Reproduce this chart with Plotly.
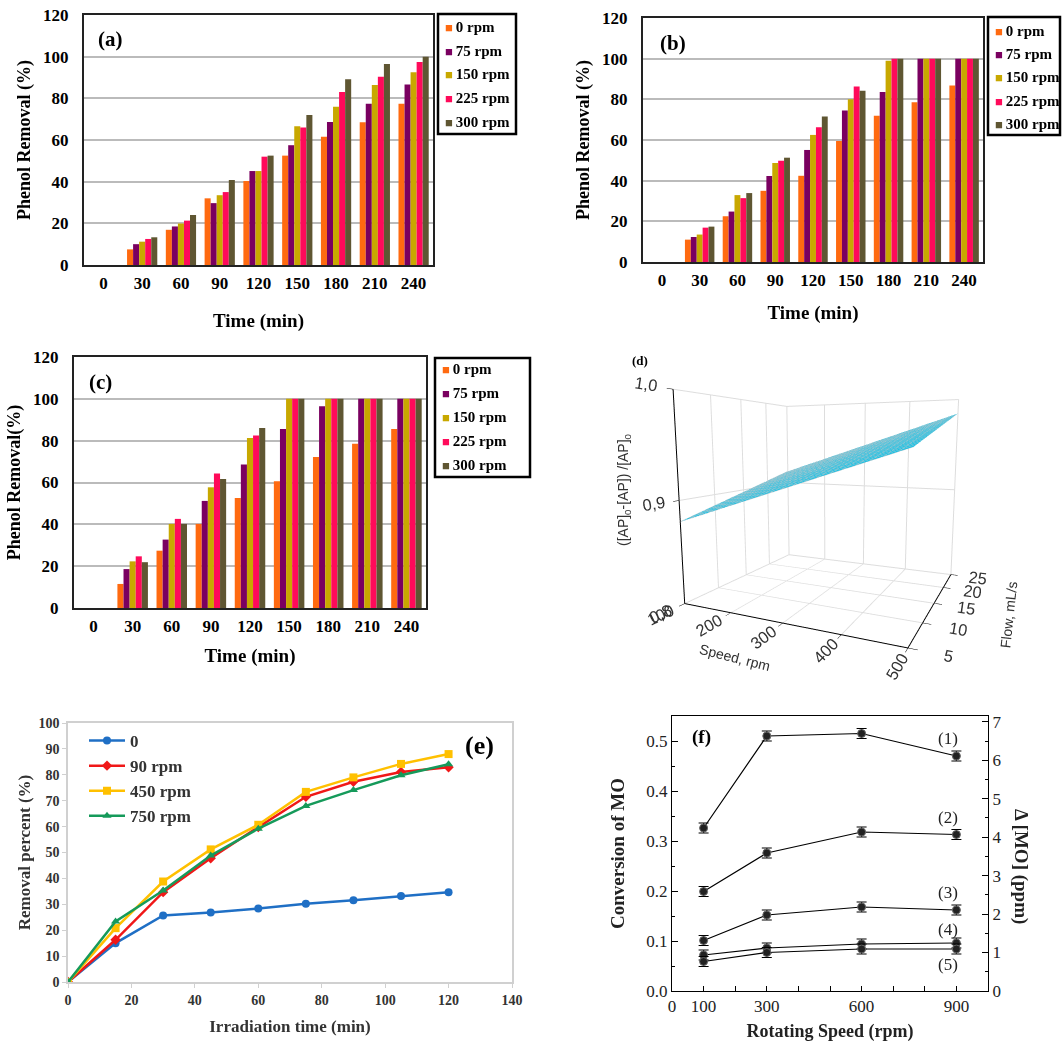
import plotly.graph_objects as go

W, H = 1062, 1042
def px_x(v): return v / W
def px_y(v): return 1 - v / H

# ---------------- Data ----------------
times = ["0", "30", "60", "90", "120", "150", "180", "210", "240"]
rpm_labels = ["0 rpm", "75 rpm", "150 rpm", "225 rpm", "300 rpm"]
bar_colors = ["#FF6A10", "#7A0060", "#C8A800", "#FF0A5A", "#5F5632"]

a_vals = [
    [0, 7.5, 16.9, 32.0, 40.3, 52.5, 61.6, 68.5, 77.4],
    [0, 10.0, 18.5, 29.7, 45.1, 57.5, 68.7, 77.4, 86.7],
    [0, 11.2, 19.9, 33.5, 45.1, 66.6, 76.0, 86.4, 92.5],
    [0, 12.5, 21.3, 35.0, 52.0, 66.0, 83.0, 90.4, 97.4],
    [0, 13.3, 24.0, 40.8, 52.5, 72.0, 89.2, 96.5, 100.0],
]
b_vals = [
    [0, 11.0, 22.5, 35.0, 42.4, 59.5, 71.9, 78.6, 86.8],
    [0, 12.3, 24.8, 42.3, 55.1, 74.5, 83.6, 100, 100],
    [0, 13.5, 32.9, 48.7, 62.5, 80.0, 99.0, 100, 100],
    [0, 16.9, 31.4, 49.8, 66.3, 86.3, 100, 100, 100],
    [0, 17.4, 33.9, 51.3, 71.5, 84.2, 100, 100, 100],
]
c_vals = [
    [0, 11.5, 27.4, 40.2, 52.6, 60.6, 72.2, 78.5, 85.6],
    [0, 18.6, 32.7, 51.2, 68.6, 85.6, 96.5, 100, 100],
    [0, 22.3, 40.2, 57.7, 81.3, 100, 100, 100, 100],
    [0, 24.7, 42.6, 64.3, 82.5, 100, 100, 100, 100],
    [0, 21.9, 40.2, 61.7, 86.0, 100, 100, 100, 100],
]

# (d) surface corners
d_speed = [100, 500]
d_flow = [5, 25]
d_z = [[0.88, 0.95],
       [0.915, 0.985]]

# (e)
e_time = [0, 15, 30, 45, 60, 75, 90, 105, 120]
e_names = ["0", "90 rpm", "450 rpm", "750 rpm"]
e_vals = [
    [0, 15.0, 25.7, 26.8, 28.4, 30.2, 31.6, 33.2, 34.7],
    [0, 16.3, 34.7, 47.8, 59.8, 71.5, 77.3, 81.1, 82.9],
    [0, 20.8, 38.8, 51.2, 60.7, 73.4, 79.0, 84.2, 88.0],
    [0, 23.4, 35.3, 48.8, 59.2, 68.0, 74.1, 79.8, 84.1],
]
e_colors = ["#1F6FC5", "#F01818", "#FFC000", "#159A5A"]
e_symbols = ["circle", "diamond", "square", "triangle-up"]

# (f)
f_speed = [100, 300, 600, 900]
f_names = ["(1)", "(2)", "(3)", "(4)", "(5)"]
f_vals = [
    [0.326, 0.510, 0.515, 0.470],
    [0.199, 0.276, 0.318, 0.313],
    [0.101, 0.152, 0.168, 0.162],
    [0.072, 0.086, 0.094, 0.096],
    [0.059, 0.077, 0.084, 0.084],
]
f_err = [0.01, 0.01, 0.01, 0.01]
f_label_y = [0.505, 0.348, 0.198, 0.124, 0.053]

fig = go.Figure()

serif = "Liberation Serif"
bold_font = dict(family=serif, size=17, color="black", weight="bold")

# ---------------- Bar panels ----------------
panels = [("x", "y", a_vals), ("x2", "y2", b_vals), ("x3", "y3", c_vals)]
for xa, ya, vals in panels:
    for i, name in enumerate(rpm_labels):
        fig.add_trace(go.Bar(
            x=times, y=vals[i], name=name, marker_color=bar_colors[i],
            marker_line_width=0, xaxis=xa, yaxis=ya, showlegend=False,
        ))

bar_domains = {
    "": ([84 / W, 433 / W], [px_y(265), px_y(15)]),
    "2": ([643 / W, 983 / W], [px_y(262), px_y(18)]),
    "3": ([74 / W, 426 / W], [px_y(608), px_y(357)]),
}
ytitles = {"": "Phenol Removal (%)", "2": "Phenol Removal (%)", "3": "Phenol Removal(%)"}
xstand = {"": 21, "2": 16, "3": 13}
layout = {}
for k, (dx, dy) in bar_domains.items():
    layout["xaxis" + k] = dict(
        domain=dx, anchor="y" + k, type="category", automargin=False,
        showline=True, linecolor="#222", linewidth=2, mirror=True,
        ticks="outside", ticklen=2, tickcolor="rgba(0,0,0,0)",
        tickfont=bold_font, showgrid=False,
        title=dict(text="Time (min)", font=dict(family=serif, size=19, weight="bold", color="black"),
                   standoff=xstand[k]),
    )
    layout["yaxis" + k] = dict(
        domain=dy, anchor="x" + k, range=[0, 120], dtick=20, automargin=False,
        showline=True, linecolor="#222", linewidth=2, mirror=True,
        ticks="outside", ticklen=10, tickcolor="rgba(0,0,0,0)",
        tickfont=bold_font, showgrid=True, gridcolor="#BBBBBB", gridwidth=1.5,
        zeroline=False,
        title=dict(text=ytitles[k], font=dict(family=serif, size=18, weight="bold", color="black"),
                   standoff=8),
    )

# legend boxes for the bar panels: (left, top, right, bottom, first entry y, step)
legend_boxes = [
    (438, 14, 516, 134, 27, 23.7),
    (988, 17, 1060, 135, 31, 23.2),
    (435, 358, 530, 477, 369, 24.0),
]
shapes = []
ann = []
for (l, t, r, b, y0, step) in legend_boxes:
    shapes.append(dict(type="rect", xref="paper", yref="paper",
                       x0=px_x(l), x1=px_x(r), y0=px_y(b), y1=px_y(t),
                       line=dict(color="black", width=2.5), fillcolor="white", layer="above"))
    for i, name in enumerate(rpm_labels):
        ann.append(dict(
            text=f'<span style="color:{bar_colors[i]};font-size:13px">■</span>\u2009{name}',
            x=px_x(l + 5), y=px_y(y0 + i * step), xref="paper", yref="paper",
            xanchor="left", yanchor="middle", showarrow=False,
            font=dict(family=serif, size=15, weight="bold", color="black")))

# ---------------- (d) surface ----------------
fig.add_trace(go.Surface(
    x=d_speed, y=d_flow, z=d_z, scene="scene",
    colorscale=[[0, "#12C2E6"], [1, "#12C2E6"]], showscale=False,
    lighting=dict(ambient=1, diffuse=0, specular=0, roughness=1, fresnel=0),
    contours=dict(
        x=dict(show=True, start=100, end=500, size=20, color="#A9C6CE", width=1),
        y=dict(show=True, start=5, end=25, size=1, color="#A9C6CE", width=1),
    ),
    hoverinfo="skip",
))
axis3d = dict(showbackground=False, gridcolor="#DDDDDD", showline=True, linecolor="black",
              linewidth=2, ticks="outside", tickcolor="black", ticklen=6,
              tickfont=dict(family="Liberation Sans", size=14, color="#333"),
              zeroline=False, showspikes=False)
layout["scene"] = dict(
    domain=dict(x=[600 / W, 1.0], y=[px_y(686), px_y(331)]),
    xaxis=dict(axis3d, range=[100, 500], dtick=100,
               title=dict(text="Speed, rpm", font=dict(family="Liberation Sans", size=14, color="#333"))),
    yaxis=dict(axis3d, range=[5, 25], dtick=5,
               title=dict(text="Flow, mL/s", font=dict(family="Liberation Sans", size=14, color="#333"))),
    zaxis=dict(axis3d, range=[0.8, 1.0], tickvals=[0.8, 0.9, 1.0], ticktext=["0,8", "0,9", "1,0"],
               title=dict(text="")),
    aspectmode="manual", aspectratio=dict(x=1.2, y=1.1, z=1.1),
    camera=dict(eye=dict(x=1.0, y=-2.2, z=0.29), center=dict(x=0, y=0, z=-0.08)),
)
# z-axis title of (d) as rotated text left of the tick labels
ann.append(dict(text="([AP]<sub>0</sub>-[AP]) /[AP]<sub>0</sub>", x=px_x(624), y=px_y(490),
                xref="paper", yref="paper", showarrow=False, textangle=-90,
                xanchor="center", yanchor="middle",
                font=dict(family="Liberation Sans", size=14, color="#333")))

# ---------------- (e) lines ----------------
for i, name in enumerate(e_names):
    fig.add_trace(go.Scatter(
        x=e_time, y=e_vals[i], name=name, mode="lines+markers",
        line=dict(color=e_colors[i], width=2.5),
        marker=dict(color=e_colors[i], symbol=e_symbols[i], size=8),
        xaxis="x4", yaxis="y4", legend="legend",
    ))
serif_bold14 = dict(family=serif, size=14, weight="bold", color="#333")
layout["xaxis4"] = dict(
    domain=[68 / W, 512 / W], anchor="y4", range=[0, 140], dtick=20, automargin=False,
    showline=True, linecolor="#D0D0D0", linewidth=1.5, mirror=True,
    ticks="outside", ticklen=4, tickcolor="#D0D0D0", showgrid=False, zeroline=False,
    tickfont=serif_bold14,
    title=dict(text="Irradiation time (min)", font=dict(family=serif, size=17, weight="bold", color="#333"),
               standoff=14),
)
layout["yaxis4"] = dict(
    domain=[px_y(982), px_y(723)], anchor="x4", range=[0, 100], dtick=10, automargin=False,
    showline=True, linecolor="#D0D0D0", linewidth=1.5, mirror=True,
    ticks="outside", ticklen=4, tickcolor="#D0D0D0", showgrid=False, zeroline=False,
    tickfont=serif_bold14,
    title=dict(text="Removal percent (%)", font=dict(family=serif, size=17, weight="bold", color="#333"),
               standoff=4),
)
layout["legend"] = dict(
    x=px_x(84), y=px_y(723), xanchor="left", yanchor="top", bgcolor="rgba(0,0,0,0)",
    font=dict(family=serif, size=17, weight="bold", color="#333"), itemwidth=36, tracegroupgap=0,
)

# ---------------- (f) points ----------------
for i, name in enumerate(f_names):
    fig.add_trace(go.Scatter(
        x=f_speed, y=f_vals[i], name=name, mode="lines+markers",
        line=dict(color="black", width=1.2),
        marker=dict(color="#222", size=8, line=dict(color="#666", width=1)),
        error_y=dict(type="data", array=f_err, color="black", thickness=1.2, width=5),
        xaxis="x5", yaxis="y5", showlegend=False,
    ))
# empty trace so the right-hand axis is drawn
fig.add_trace(go.Scatter(x=[], y=[], xaxis="x5", yaxis="y6", showlegend=False, hoverinfo="skip"))

serif16 = dict(family=serif, size=17, color="#222")
layout["xaxis5"] = dict(
    domain=[672 / W, 988 / W], anchor="y5", range=[0, 1000], automargin=False,
    tickvals=[0, 100, 200, 300, 400, 500, 600, 700, 800, 900],
    ticktext=["0", "100", "", "300", "", "", "600", "", "", "900"],
    showline=True, linecolor="black", linewidth=1, mirror=True,
    ticks="inside", ticklen=5, tickcolor="black", showgrid=False, zeroline=False,
    tickfont=serif16,
    title=dict(text="Rotating Speed (rpm)", font=dict(family=serif, size=18, weight="bold", color="#222"),
               standoff=12),
)
layout["yaxis5"] = dict(
    domain=[px_y(991), px_y(716)], anchor="x5", range=[0, 0.55], automargin=False,
    tickvals=[0, 0.1, 0.2, 0.3, 0.4, 0.5], ticktext=["0.0", "0.1", "0.2", "0.3", "0.4", "0.5"],
    showline=True, linecolor="black", linewidth=1, mirror=False,
    ticks="inside", ticklen=6, tickcolor="black", showgrid=False, zeroline=False,
    minor=dict(ticks="inside", ticklen=3, tickvals=[0.05, 0.15, 0.25, 0.35, 0.45], tickcolor="black"),
    tickfont=serif16,
    title=dict(text="Conversion of MO", font=dict(family=serif, size=19, weight="bold", color="#222"),
               standoff=16),
)
layout["yaxis6"] = dict(
    overlaying="y5", side="right", anchor="x5", range=[0, 0.55 * 13], automargin=False,
    tickvals=[0, 1, 2, 3, 4, 5, 6, 7],
    showline=True, linecolor="black", linewidth=1,
    ticks="inside", ticklen=6, tickcolor="black", showgrid=False, zeroline=False,
    minor=dict(ticks="inside", ticklen=3, dtick=0.5, tickcolor="black"),
    tickfont=serif16,
)

# ---------------- annotations ----------------
def lab(text, x, y, size, color="black"):
    ann.append(dict(text=text, x=x, y=y, xref="paper", yref="paper", showarrow=False,
                    xanchor="left", yanchor="middle",
                    font=dict(family=serif, size=size, weight="bold", color=color)))
lab("(a)", px_x(96), px_y(39), 21)
lab("(b)", px_x(658), px_y(43), 21)
lab("(c)", px_x(87), px_y(382), 21)
lab("(d)", px_x(630), px_y(360), 13)
lab("(e)", px_x(463), px_y(745), 26)
lab("(f)", px_x(690), px_y(737), 19)
for i, name in enumerate(f_names):
    ann.append(dict(text=name, x=900, y=f_label_y[i], xref="x5", yref="y5", showarrow=False,
                    xanchor="right", yanchor="middle", xshift=4,
                    font=dict(family=serif, size=17, color="#222")))
ann.append(dict(text="Δ [MO] (ppm)", x=px_x(1021), y=px_y(866), xref="paper", yref="paper",
                showarrow=False, textangle=90, xanchor="center", yanchor="middle",
                font=dict(family=serif, size=19, weight="bold", color="#222")))

fig.update_layout(
    **layout,
    annotations=ann,
    shapes=shapes,
    width=W, height=H,
    margin=dict(l=0, r=0, t=0, b=0, autoexpand=False),
    paper_bgcolor="white", plot_bgcolor="white",
    barmode="group", bargap=0.22, bargroupgap=0,
    showlegend=True,
)

fig.write_html("out.html")
